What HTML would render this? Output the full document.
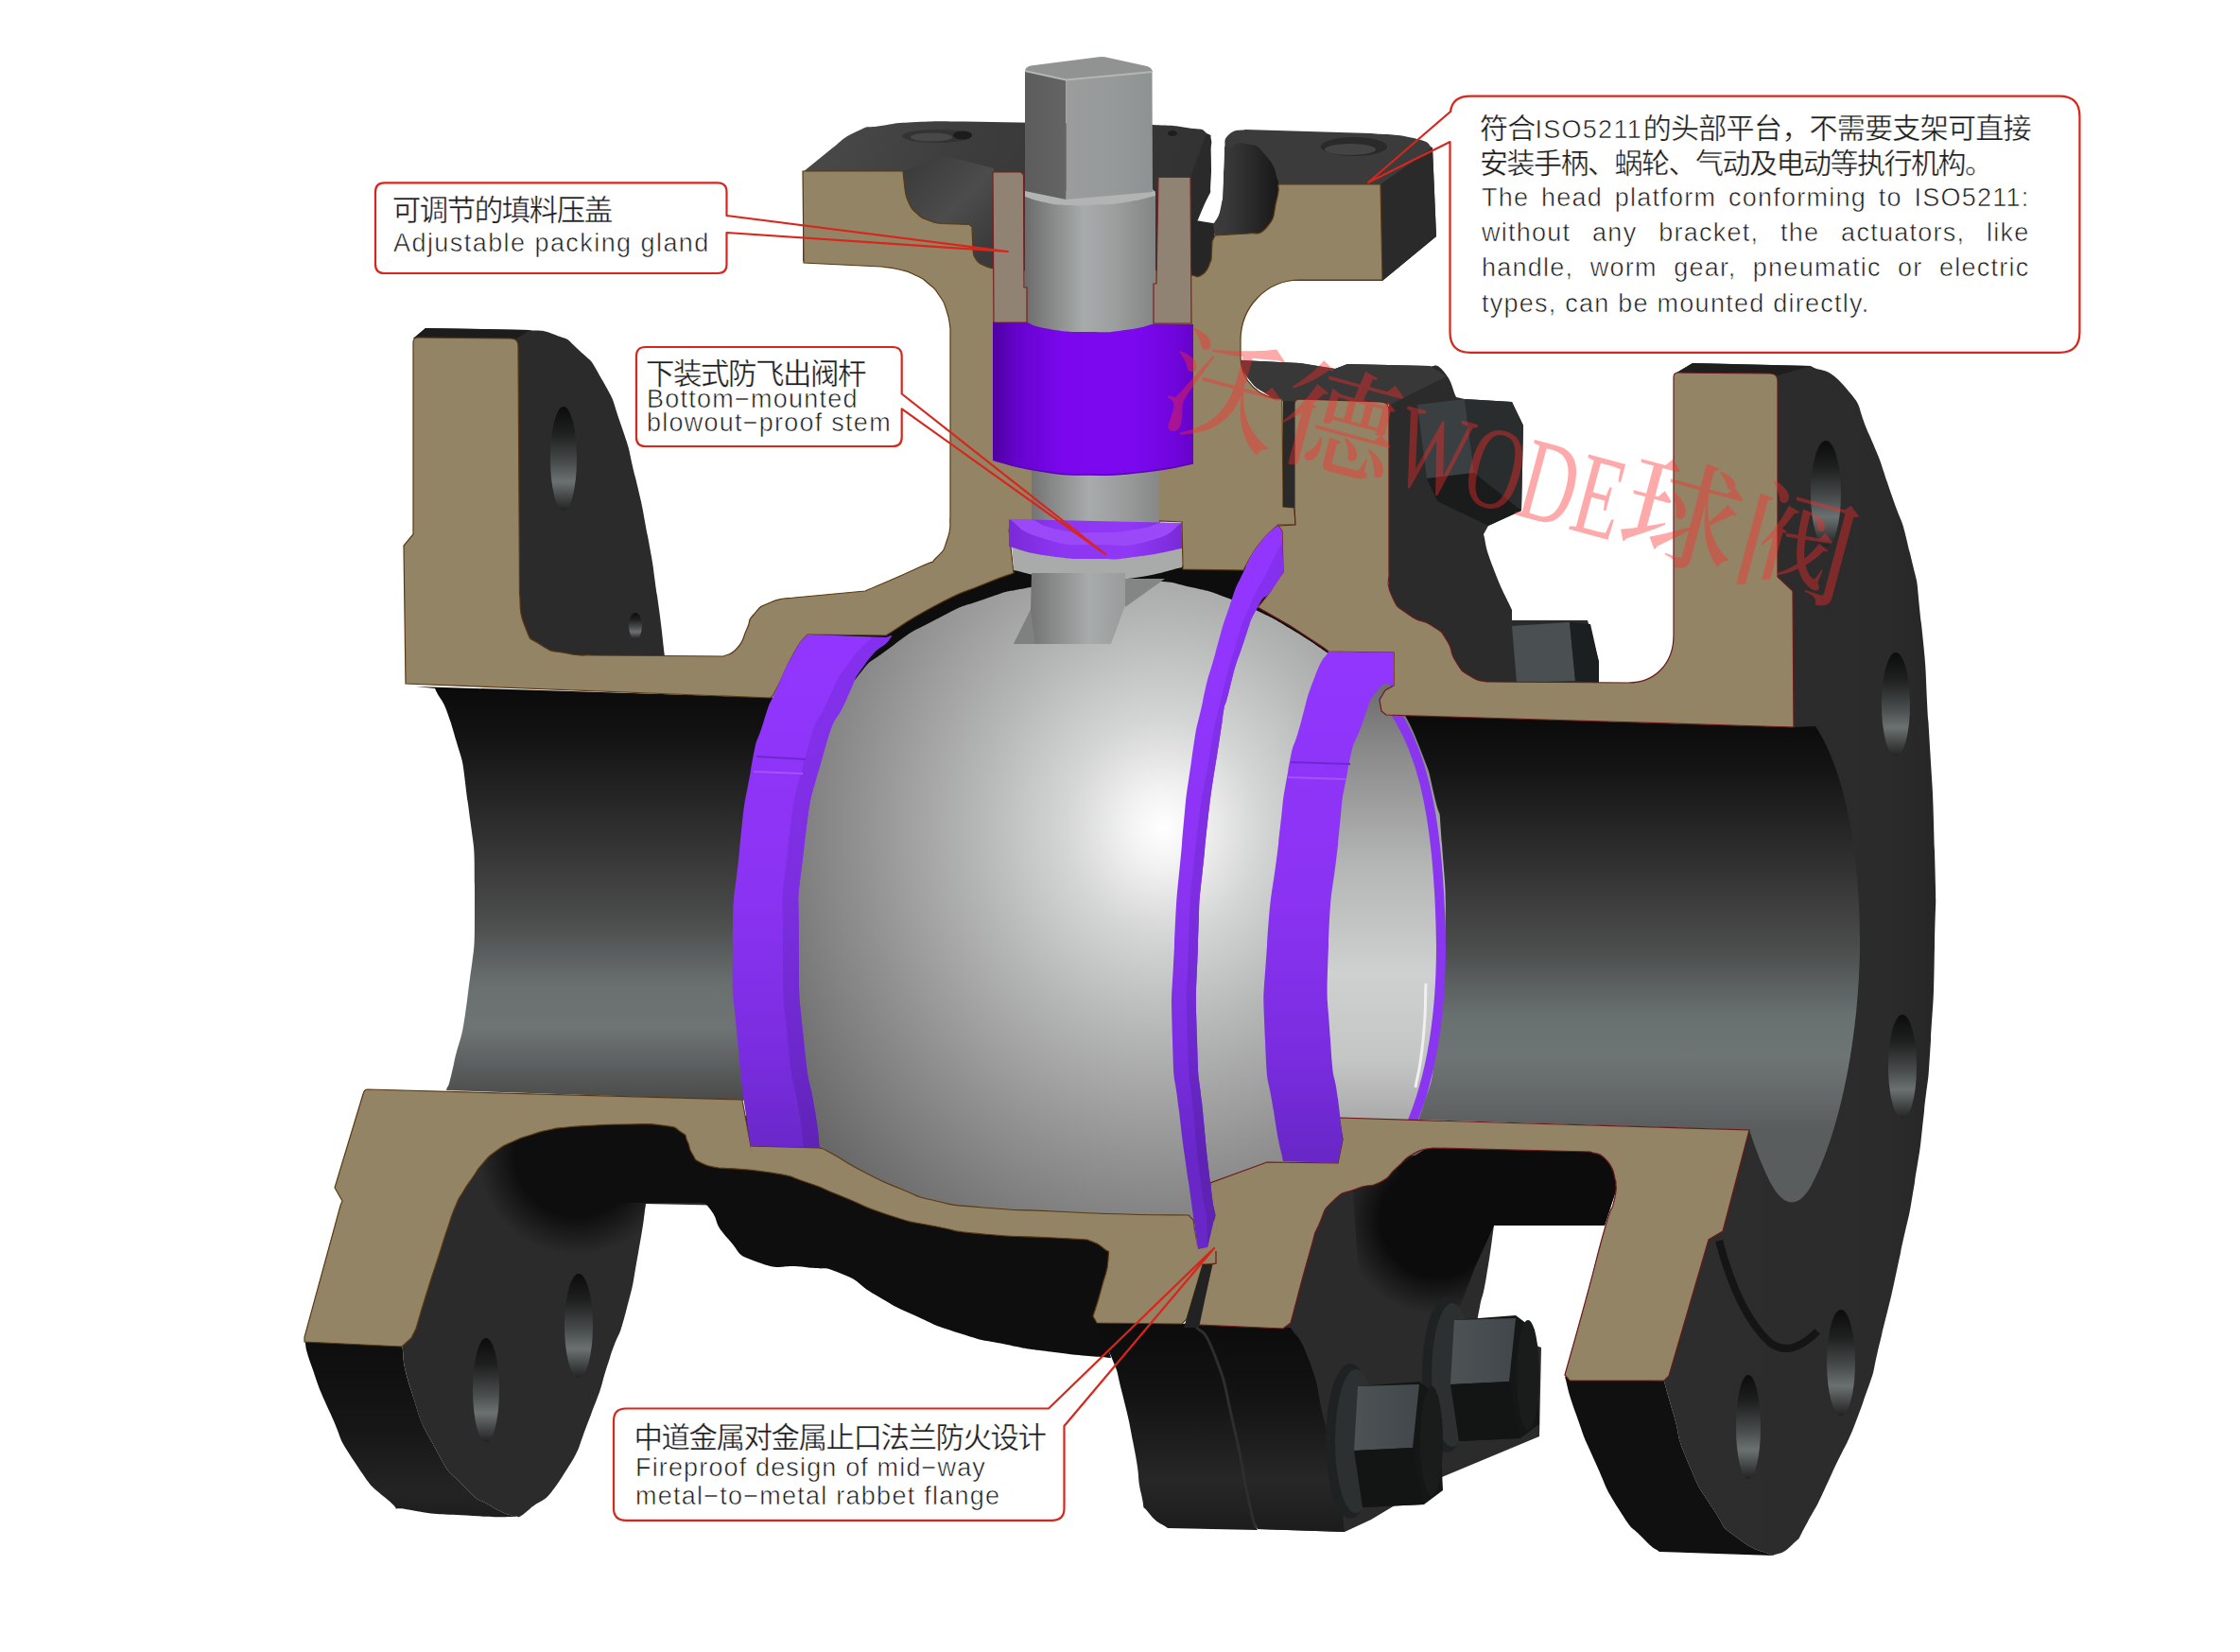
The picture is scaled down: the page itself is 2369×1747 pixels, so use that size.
<!DOCTYPE html>
<html><head><meta charset="utf-8"><title>Ball valve</title>
<style>
html,body{margin:0;padding:0;background:#fff;}
body{width:2369px;height:1747px;position:relative;overflow:hidden;font-family:"Liberation Sans","Noto Sans CJK SC",sans-serif;color:#1a1a1a;}
.t{position:absolute;white-space:nowrap;line-height:1;font-weight:300;color:#1c1c1c;}
.e{font-size:27px;letter-spacing:1.25px;-webkit-text-stroke:0.55px #fff;}
.c{font-weight:400;-webkit-text-stroke:0.35px #fff;}
.j{text-align:justify;text-align-last:justify;white-space:normal;}
</style></head><body>
<svg width="2369" height="1747" viewBox="0 0 2369 1747" style="position:absolute;left:0;top:0"><defs><linearGradient id="boreL" gradientUnits="userSpaceOnUse" x1="0" y1="730" x2="0" y2="1165"><stop offset="0" stop-color="#0b0b0b"/><stop offset="0.12" stop-color="#141414"/><stop offset="0.35" stop-color="#303030"/><stop offset="0.55" stop-color="#4a4b4b"/><stop offset="0.72" stop-color="#6a7070"/><stop offset="0.82" stop-color="#6e7474"/><stop offset="0.92" stop-color="#5a5d5d"/><stop offset="1" stop-color="#4a4a4a"/></linearGradient><linearGradient id="boreR" gradientUnits="userSpaceOnUse" x1="0" y1="760" x2="0" y2="1195"><stop offset="0" stop-color="#0b0b0b"/><stop offset="0.12" stop-color="#141414"/><stop offset="0.35" stop-color="#303030"/><stop offset="0.55" stop-color="#4a4b4b"/><stop offset="0.72" stop-color="#687070"/><stop offset="0.82" stop-color="#6e7474"/><stop offset="0.92" stop-color="#646868"/><stop offset="1" stop-color="#5a5d5d"/></linearGradient><radialGradient id="ball" gradientUnits="userSpaceOnUse" cx="1230" cy="875" r="520" gradientTransform="translate(1230 875) scale(0.9 1) translate(-1230 -875)"><stop offset="0" stop-color="#ffffff"/><stop offset="0.08" stop-color="#f2f2f2"/><stop offset="0.22" stop-color="#d4d5d5"/><stop offset="0.42" stop-color="#b5b6b6"/><stop offset="0.68" stop-color="#929292"/><stop offset="1" stop-color="#686868"/></radialGradient><linearGradient id="seatV" gradientUnits="userSpaceOnUse" x1="0" y1="670" x2="0" y2="1220"><stop offset="0" stop-color="#9236ff"/><stop offset="0.5" stop-color="#8b33f2"/><stop offset="0.8" stop-color="#7a2de0"/><stop offset="1" stop-color="#6927c8"/></linearGradient><linearGradient id="seatV2" gradientUnits="userSpaceOnUse" x1="0" y1="670" x2="0" y2="1220"><stop offset="0" stop-color="#8430ee"/><stop offset="0.5" stop-color="#7d2ee0"/><stop offset="0.8" stop-color="#6c28cc"/><stop offset="1" stop-color="#5e22b4"/></linearGradient><linearGradient id="pack" gradientUnits="userSpaceOnUse" x1="1050" y1="0" x2="1262" y2="0"><stop offset="0" stop-color="#4e00a0"/><stop offset="0.12" stop-color="#6603cc"/><stop offset="0.35" stop-color="#7a07ee"/><stop offset="0.7" stop-color="#7c08f0"/><stop offset="0.9" stop-color="#7005dd"/><stop offset="1" stop-color="#6504c8"/></linearGradient><linearGradient id="stem" gradientUnits="userSpaceOnUse" x1="1084" y1="0" x2="1222" y2="0"><stop offset="0" stop-color="#6c6c6c"/><stop offset="0.15" stop-color="#808181"/><stop offset="0.45" stop-color="#a8abab"/><stop offset="0.7" stop-color="#9c9e9e"/><stop offset="1" stop-color="#838484"/></linearGradient><linearGradient id="stem2" gradientUnits="userSpaceOnUse" x1="1091" y1="0" x2="1226" y2="0"><stop offset="0" stop-color="#747474"/><stop offset="0.15" stop-color="#868787"/><stop offset="0.45" stop-color="#a8abab"/><stop offset="0.7" stop-color="#9c9e9e"/><stop offset="1" stop-color="#868787"/></linearGradient><linearGradient id="sqR" gradientUnits="userSpaceOnUse" x1="1127" y1="0" x2="1219" y2="0"><stop offset="0" stop-color="#9b9d9d"/><stop offset="0.5" stop-color="#979a9a"/><stop offset="1" stop-color="#8f9292"/></linearGradient><linearGradient id="sqL" gradientUnits="userSpaceOnUse" x1="1084" y1="0" x2="1127" y2="0"><stop offset="0" stop-color="#5c5c5c"/><stop offset="1" stop-color="#646464"/></linearGradient><linearGradient id="hole" gradientUnits="objectBoundingBox" x1="0" y1="0" x2="0" y2="1"><stop offset="0" stop-color="#0c0c0c"/><stop offset="0.25" stop-color="#1e1f1f"/><stop offset="0.55" stop-color="#4a4e4e"/><stop offset="0.72" stop-color="#6b7171"/><stop offset="0.9" stop-color="#3c3e3e"/><stop offset="1" stop-color="#222"/></linearGradient><linearGradient id="inner" gradientUnits="userSpaceOnUse" x1="0" y1="730" x2="0" y2="1190"><stop offset="0" stop-color="#6e6e6e"/><stop offset="0.15" stop-color="#8c8c8c"/><stop offset="0.4" stop-color="#b4b5b5"/><stop offset="0.65" stop-color="#cfd0d0"/><stop offset="0.85" stop-color="#c4c5c5"/><stop offset="1" stop-color="#a8a8a8"/></linearGradient><linearGradient id="rimB" gradientUnits="userSpaceOnUse" x1="0" y1="1400" x2="0" y2="1620"><stop offset="0" stop-color="#0c0c0c"/><stop offset="0.5" stop-color="#161616"/><stop offset="0.8" stop-color="#242424"/><stop offset="1" stop-color="#1a1a1a"/></linearGradient><linearGradient id="topL" gradientUnits="userSpaceOnUse" x1="850" y1="130" x2="1280" y2="280"><stop offset="0" stop-color="#4a4a4a"/><stop offset="0.4" stop-color="#3c3c3c"/><stop offset="1" stop-color="#303030"/></linearGradient><linearGradient id="recess" gradientUnits="userSpaceOnUse" x1="1296" y1="0" x2="1352" y2="0"><stop offset="0" stop-color="#3a3a3a"/><stop offset="0.6" stop-color="#262626"/><stop offset="1" stop-color="#181818"/></linearGradient><linearGradient id="washer" gradientUnits="userSpaceOnUse" x1="1067" y1="0" x2="1250" y2="0"><stop offset="0" stop-color="#7a2ad8"/><stop offset="0.3" stop-color="#8d36f2"/><stop offset="0.7" stop-color="#9038f5"/><stop offset="1" stop-color="#7a2ad8"/></linearGradient><linearGradient id="nutF" gradientUnits="objectBoundingBox" x1="0" y1="0" x2="1" y2="0"><stop offset="0" stop-color="#4d5355"/><stop offset="1" stop-color="#41474a"/></linearGradient><linearGradient id="faceR" gradientUnits="userSpaceOnUse" x1="1780" y1="0" x2="2050" y2="0"><stop offset="0" stop-color="#2d2d2d"/><stop offset="0.8" stop-color="#2b2b2b"/><stop offset="1" stop-color="#262626"/></linearGradient><clipPath id="clipLF"><path d="M425.0,1421.0 L440.0,1300.0 L520.0,1190.0 L780.0,1190.0 L780.0,1275.0 L683.0,1273.0 C680.3,1290.3 682.0,1287.0 675.0,1325.0 C668.0,1363.0 672.0,1350.0 662.0,1387.0 C652.0,1424.0 657.3,1399.7 645.0,1436.0 C632.7,1472.3 641.7,1454.3 625.0,1496.0 C608.3,1537.7 616.7,1527.7 595.0,1561.0 C573.3,1594.3 576.7,1581.7 560.0,1596.0 C543.3,1610.3 550.0,1601.3 545.0,1604.0 C536.7,1600.3 538.3,1604.0 520.0,1593.0 C501.7,1582.0 510.0,1591.7 490.0,1571.0 C470.0,1550.3 478.3,1564.3 460.0,1531.0 C441.7,1497.7 446.7,1507.7 435.0,1471.0 C423.3,1434.3 428.3,1437.7 425.0,1421.0 Z"/></clipPath><filter id="blur8" x="-50%" y="-50%" width="200%" height="200%"><feGaussianBlur stdDeviation="10"/></filter><filter id="blur16" x="-50%" y="-50%" width="200%" height="200%"><feGaussianBlur stdDeviation="16"/></filter><radialGradient id="shL" gradientUnits="userSpaceOnUse" cx="610" cy="1222" r="105"><stop offset="0" stop-color="#0e0e0e"/><stop offset="0.62" stop-color="#0e0e0e"/><stop offset="1" stop-color="#0e0e0e" stop-opacity="0"/></radialGradient><linearGradient id="recL" gradientUnits="userSpaceOnUse" x1="960" y1="170" x2="1050" y2="260"><stop offset="0" stop-color="#3a3a3a"/><stop offset="0.55" stop-color="#4c4c4c"/><stop offset="1" stop-color="#3a3a3a"/></linearGradient><linearGradient id="mfl" gradientUnits="userSpaceOnUse" x1="0" y1="1400" x2="0" y2="1620"><stop offset="0" stop-color="#0c0c0c"/><stop offset="0.35" stop-color="#131313"/><stop offset="0.75" stop-color="#272727"/><stop offset="1" stop-color="#1c1c1c"/></linearGradient><radialGradient id="shR" gradientUnits="userSpaceOnUse" cx="1520" cy="1290" r="100"><stop offset="0" stop-color="#0c0c0c"/><stop offset="0.6" stop-color="#0c0c0c"/><stop offset="1" stop-color="#0c0c0c" stop-opacity="0"/></radialGradient><linearGradient id="neckHL" gradientUnits="userSpaceOnUse" x1="1438" y1="1262" x2="1478" y2="1248"><stop offset="0" stop-color="#2b2b2b"/><stop offset="0.5" stop-color="#2f2f2f"/><stop offset="1" stop-color="#2b2b2b"/></linearGradient></defs><path d="M437.0,358.0 L450.0,347.0 L560.0,349.0 C569.0,350.7 569.7,347.0 587.0,354.0 C604.3,361.0 595.3,354.0 612.0,370.0 C628.7,386.0 622.0,375.3 637.0,402.0 C652.0,428.7 645.3,415.7 657.0,450.0 C668.7,484.3 662.7,466.0 672.0,505.0 C681.3,544.0 677.3,525.3 685.0,567.0 C692.7,608.7 689.0,587.7 695.0,630.0 C701.0,672.3 700.3,672.7 703.0,694.0 L545.0,694.0 L545.0,358.0 Z" fill="#2b2b2b"/>
<path d="M437.0,358.0 L450.0,347.0 L560.0,349.0 L545.0,359.0 Z" fill="#1c1c1c"/>
<ellipse cx="596" cy="485" rx="14" ry="55" fill="url(#hole)"/>
<ellipse cx="672" cy="662" rx="7" ry="14" fill="url(#hole)"/>
<path d="M425.0,1421.0 L440.0,1300.0 L520.0,1190.0 L780.0,1190.0 L780.0,1275.0 L683.0,1273.0 C680.3,1290.3 682.0,1287.0 675.0,1325.0 C668.0,1363.0 672.0,1350.0 662.0,1387.0 C652.0,1424.0 657.3,1399.7 645.0,1436.0 C632.7,1472.3 641.7,1454.3 625.0,1496.0 C608.3,1537.7 616.7,1527.7 595.0,1561.0 C573.3,1594.3 576.7,1581.7 560.0,1596.0 C543.3,1610.3 550.0,1601.3 545.0,1604.0 C536.7,1600.3 538.3,1604.0 520.0,1593.0 C501.7,1582.0 510.0,1591.7 490.0,1571.0 C470.0,1550.3 478.3,1564.3 460.0,1531.0 C441.7,1497.7 446.7,1507.7 435.0,1471.0 C423.3,1434.3 428.3,1437.7 425.0,1421.0 Z" fill="#2b2b2b"/>
<path d="M322.0,1416.0 L425.0,1422.0 C428.3,1438.3 423.3,1434.7 435.0,1471.0 C446.7,1507.3 441.7,1497.7 460.0,1531.0 C478.3,1564.3 470.0,1550.3 490.0,1571.0 C510.0,1591.7 501.7,1582.0 520.0,1593.0 C538.3,1604.0 536.7,1600.3 545.0,1604.0 C530.0,1603.7 536.7,1605.3 500.0,1603.0 C463.3,1600.7 465.0,1602.7 435.0,1597.0 C405.0,1591.3 430.0,1603.0 410.0,1586.0 C390.0,1569.0 395.0,1576.0 375.0,1546.0 C355.0,1516.0 365.0,1529.3 350.0,1496.0 C335.0,1462.7 339.3,1472.7 330.0,1446.0 C320.7,1419.3 324.7,1426.0 322.0,1416.0 Z" fill="url(#rimB)"/>
<ellipse cx="612" cy="1402" rx="15" ry="55" fill="url(#hole)"/>
<ellipse cx="514" cy="1470" rx="14" ry="55" fill="url(#hole)"/>
<g clip-path="url(#clipLF)"><circle cx="610" cy="1222" r="105" fill="url(#shL)"/></g>
<path d="M600.0,1180.0 L800.0,1180.0 L1150.0,1300.0 L1180.0,1320.0 L1165.0,1400.0 L1175.0,1436.0 C1155.0,1434.0 1151.7,1434.7 1115.0,1430.0 C1078.3,1425.3 1098.3,1428.7 1065.0,1422.0 C1031.7,1415.3 1048.3,1420.7 1015.0,1410.0 C981.7,1399.3 994.3,1403.3 965.0,1390.0 C935.7,1376.7 952.0,1384.3 927.0,1370.0 C902.0,1355.7 915.0,1357.0 890.0,1347.0 C865.0,1337.0 881.3,1344.0 852.0,1340.0 C822.7,1336.0 829.3,1345.0 802.0,1335.0 C774.7,1325.0 786.7,1328.3 770.0,1310.0 C753.3,1291.7 761.3,1292.7 752.0,1280.0 C742.7,1267.3 745.3,1274.7 742.0,1272.0 L600.0,1272.0 Z" fill="#0e0e0e"/>
<path d="M849.0,182.0 L881.0,156.0 C889.3,150.3 889.0,146.7 906.0,139.0 C923.0,131.3 910.7,136.3 932.0,133.0 C953.3,129.7 940.7,130.5 970.0,129.0 C999.3,127.5 1003.3,128.7 1020.0,128.5 L1220.0,132.0 C1231.7,133.0 1236.0,131.7 1255.0,135.0 C1274.0,138.3 1268.7,133.7 1277.0,142.0 C1285.3,150.3 1279.0,154.0 1280.0,160.0 L1282.0,200.0 L1265.0,232.0 L1260.0,292.0 L1051.0,292.0 L1051.0,276.0 L849.0,276.0 Z" fill="url(#topL)"/>
<path d="M955.0,181.0 L957.0,200.0 C958.3,204.7 956.7,205.3 961.0,214.0 C965.3,222.7 963.0,219.7 970.0,226.0 C977.0,232.3 973.7,229.5 982.0,233.0 C990.3,236.5 990.7,235.3 995.0,236.5 L1025.0,237.3 L1028.0,240.0 L1029.0,265.0 C1030.0,268.0 1028.3,268.8 1032.0,274.0 C1035.7,279.2 1033.7,277.2 1040.0,280.5 C1046.3,283.8 1047.3,282.8 1051.0,284.0 L1051.0,178.0 L1000.0,165.0 Z" fill="url(#recL)"/>
<ellipse cx="991" cy="144" rx="37" ry="7" fill="#333"/>
<ellipse cx="985" cy="145" rx="22" ry="4.5" fill="#484848"/>
<ellipse cx="1018" cy="143" rx="10" ry="4.5" fill="#1c1c1c"/>
<ellipse cx="1240" cy="141" rx="5" ry="3" fill="#1e1e1e"/>
<path d="M1295.0,156.0 C1296.7,151.3 1292.7,148.3 1300.0,142.0 C1307.3,135.7 1311.3,138.7 1317.0,137.0 L1450.0,141.0 C1465.0,142.7 1473.3,141.0 1495.0,146.0 C1516.7,151.0 1508.3,152.7 1515.0,156.0 L1519.0,250.0 L1462.0,297.0 L1352.0,297.0 L1285.0,250.0 L1282.0,238.0 C1284.7,233.7 1286.3,234.3 1290.0,225.0 C1293.7,215.7 1292.0,215.0 1293.0,210.0 Z" fill="#3b3b3b"/>
<path d="M1460.0,195.0 L1515.0,156.0 L1519.0,250.0 L1462.0,297.0 Z" fill="#2a2a2a"/>
<path d="M1296.0,158.0 C1303.3,156.0 1303.3,149.3 1318.0,152.0 C1332.7,154.7 1328.7,152.7 1340.0,166.0 C1351.3,179.3 1348.0,183.3 1352.0,192.0 L1352.0,195.0 C1351.3,200.7 1354.0,197.0 1350.0,212.0 C1346.0,227.0 1350.0,228.3 1340.0,240.0 C1330.0,251.7 1326.7,244.7 1320.0,247.0 L1285.0,249.0 L1293.0,210.0 Z" fill="url(#recess)"/>
<ellipse cx="1432" cy="155" rx="35" ry="10" fill="#2a2a2a"/>
<ellipse cx="1428" cy="158" rx="27" ry="6" fill="#444"/>
<path d="M1276.0,141.0 L1280.5,143.0 L1281.0,199.0 L1266.0,234.5 L1259.0,234.5 L1259.0,188.0 Z" fill="#2a2a2a"/>
<path d="M1258.0,232.0 L1283.0,236.0 L1285.0,252.0 L1282.0,292.0 L1258.0,292.0 Z" fill="#262626"/>
<path d="M1312.0,381.0 L1375.0,384.0 L1412.0,390.0 L1425.0,385.0 L1512.0,387.0 C1517.0,389.0 1517.7,382.0 1527.0,393.0 C1536.3,404.0 1535.7,411.0 1540.0,420.0 L1549.0,422.0 L1599.0,425.0 L1611.0,450.0 L1609.0,540.0 L1574.0,556.0 L1569.0,565.0 C1572.3,576.7 1569.0,573.3 1579.0,600.0 C1589.0,626.7 1592.3,630.0 1599.0,645.0 L1599.0,656.0 L1679.0,656.0 L1691.0,700.0 L1691.0,724.0 L1469.0,724.0 L1469.0,426.0 L1356.0,424.0 C1350.7,421.7 1352.0,425.0 1340.0,417.0 C1328.0,409.0 1329.3,412.0 1320.0,400.0 C1310.7,388.0 1314.7,387.3 1312.0,381.0 Z" fill="#2b2b2b"/>
<path d="M1312.0,381.0 L1375.0,384.0 L1412.0,390.0 L1425.0,385.0 L1512.0,387.0 L1530.0,398.0 L1470.0,428.0 L1356.0,424.0 C1350.7,421.7 1352.0,425.0 1340.0,417.0 C1328.0,409.0 1329.3,412.0 1320.0,400.0 C1310.7,388.0 1314.7,387.3 1312.0,381.0 Z" fill="#383838"/>
<path d="M1499.0,428.0 L1549.0,422.0 L1559.0,500.0 L1509.0,506.0 Z" fill="#3a3f41"/>
<path d="M1549.0,422.0 L1599.0,425.0 L1611.0,450.0 L1609.0,540.0 L1559.0,500.0 Z" fill="#2a2d2e"/>
<path d="M1509.0,506.0 L1559.0,500.0 L1609.0,540.0 L1574.0,556.0 L1520.0,530.0 Z" fill="#1a1c1c"/>
<path d="M1599.0,662.0 L1660.0,658.0 L1666.0,720.0 L1604.0,722.0 Z" fill="#4a5052"/>
<path d="M1660.0,658.0 L1682.0,660.0 L1691.0,700.0 L1691.0,722.0 L1666.0,720.0 Z" fill="#1c1f1f"/>
<path d="M1770.0,396.0 L1790.0,384.0 L1915.0,387.0 C1927.3,394.7 1931.3,385.7 1952.0,410.0 C1972.7,434.3 1961.0,422.7 1977.0,460.0 C1993.0,497.3 1985.7,480.3 2000.0,522.0 C2014.3,563.7 2009.3,539.0 2020.0,585.0 C2030.7,631.0 2025.3,597.3 2032.0,660.0 C2038.7,722.7 2035.3,693.0 2040.0,773.0 C2044.7,853.0 2044.0,824.3 2046.0,900.0 C2048.0,975.7 2047.3,933.3 2046.0,1000.0 C2044.7,1066.7 2045.7,1041.7 2042.0,1100.0 C2038.3,1158.3 2040.7,1125.0 2035.0,1175.0 C2029.3,1225.0 2033.3,1200.0 2025.0,1250.0 C2016.7,1300.0 2021.7,1271.0 2010.0,1325.0 C1998.3,1379.0 2003.3,1359.0 1990.0,1412.0 C1976.7,1465.0 1987.7,1435.0 1970.0,1484.0 C1952.3,1533.0 1956.3,1517.3 1937.0,1559.0 C1917.7,1600.7 1926.0,1584.0 1912.0,1609.0 C1898.0,1634.0 1907.3,1622.0 1895.0,1634.0 C1882.7,1646.0 1881.7,1641.3 1875.0,1645.0 C1862.3,1638.7 1858.0,1642.3 1837.0,1626.0 C1816.0,1609.7 1829.3,1622.7 1812.0,1596.0 C1794.7,1569.3 1799.0,1579.3 1785.0,1546.0 C1771.0,1512.7 1778.3,1524.3 1770.0,1496.0 C1761.7,1467.7 1763.3,1472.7 1760.0,1461.0 L1740.0,1461.0 L1790.0,1300.0 L1830.0,1195.0 L1890.0,769.0 L1870.0,769.0 L1870.0,400.0 Z" fill="url(#faceR)"/>
<path d="M1770.0,396.0 L1790.0,384.0 L1915.0,387.0 L1880.0,397.0 Z" fill="#1e1e1e"/>
<ellipse cx="1931" cy="522" rx="16" ry="56" fill="url(#hole)"/>
<ellipse cx="2005" cy="745" rx="15" ry="55" fill="url(#hole)"/>
<ellipse cx="2012" cy="1128" rx="15" ry="55" fill="url(#hole)"/>
<ellipse cx="1947" cy="1441" rx="15" ry="56" fill="url(#hole)"/>
<ellipse cx="1849" cy="1509" rx="13" ry="55" fill="url(#hole)"/>
<path d="M1818,1312 C1832,1365 1850,1400 1872,1420 C1888,1432 1905,1425 1922,1408" fill="none" stroke="#151515" stroke-width="8"/>
<path d="M1655.0,1456.0 L1760.0,1461.0 C1763.3,1472.7 1761.7,1467.7 1770.0,1496.0 C1778.3,1524.3 1771.0,1512.7 1785.0,1546.0 C1799.0,1579.3 1794.7,1569.3 1812.0,1596.0 C1829.3,1622.7 1816.0,1609.7 1837.0,1626.0 C1858.0,1642.3 1862.3,1638.7 1875.0,1645.0 L1755.0,1641.0 C1749.0,1636.0 1751.3,1641.0 1737.0,1626.0 C1722.7,1611.0 1728.7,1622.7 1712.0,1596.0 C1695.3,1569.3 1702.0,1579.3 1687.0,1546.0 C1672.0,1512.7 1677.7,1526.0 1667.0,1496.0 C1656.3,1466.0 1659.0,1469.3 1655.0,1456.0 Z" fill="#101010"/>
<path d="M440.0,726.0 L830.0,738.0 L800.0,1164.0 L472.0,1153.0 C474.7,1143.7 472.3,1159.3 480.0,1125.0 C487.7,1090.7 487.7,1108.3 495.0,1050.0 C502.3,991.7 502.0,1016.7 502.0,950.0 C502.0,883.3 502.3,908.3 495.0,850.0 C487.7,791.7 491.7,815.7 480.0,775.0 C468.3,734.3 466.7,743.7 460.0,728.0 Z" fill="url(#boreL)"/>
<path d="M1440.0,755.0 L1897.0,769.0 L1920.0,768.0 C1955.0,820.0 1968.0,920.0 1967.0,1000.0 C1966.0,1100.0 1945.0,1200.0 1915.0,1255.0 C1900.0,1280.0 1885.0,1275.0 1872.0,1250.0 C1862.0,1230.0 1855.0,1210.0 1850.0,1195.0 L1410.0,1181.0 Z" fill="url(#boreR)"/>
<path d="M1340.0,1404.0 L1380.0,1290.0 L1440.0,1225.0 L1680.0,1212.0 L1712.0,1250.0 L1697.0,1296.0 L1580.0,1296.0 C1577.3,1314.0 1577.0,1321.3 1572.0,1350.0 C1567.0,1378.7 1568.3,1365.3 1565.0,1382.0 C1561.7,1398.7 1563.0,1394.0 1562.0,1400.0 L1630.0,1425.0 L1628.0,1519.0 L1525.0,1562.0 L1450.0,1607.0 L1422.0,1620.0 L1330.0,1617.0 L1300.0,1500.0 Z" fill="#2b2b2b"/>
<path d="M1500.0,1205.0 L1682.0,1212.0 C1688.7,1216.7 1692.0,1213.3 1702.0,1226.0 C1712.0,1238.7 1708.7,1242.0 1712.0,1250.0 L1697.0,1296.0 L1580.0,1296.0 L1560.0,1340.0 L1540.0,1392.0 L1440.0,1392.0 L1430.0,1250.0 Z" fill="url(#shR)"/>
<path d="M1515.0,1210.0 L1682.0,1214.0 C1688.7,1218.0 1692.0,1214.0 1702.0,1226.0 C1712.0,1238.0 1708.7,1242.0 1712.0,1250.0 L1697.0,1296.0 L1580.0,1296.0 L1530.0,1300.0 L1490.0,1260.0 L1477.0,1235.0 Z" fill="#0c0c0c"/>
<path d="M1157.0,1398.0 L1264.0,1400.0 C1268.3,1405.3 1267.0,1396.3 1277.0,1416.0 C1287.0,1435.7 1282.3,1419.7 1294.0,1459.0 C1305.7,1498.3 1301.3,1483.3 1312.0,1534.0 C1322.7,1584.7 1321.3,1585.3 1326.0,1611.0 L1330.0,1618.0 L1235.0,1616.0 C1228.3,1610.7 1224.3,1612.0 1215.0,1600.0 C1205.7,1588.0 1212.0,1602.0 1207.0,1580.0 C1202.0,1558.0 1206.7,1569.3 1200.0,1534.0 C1193.3,1498.7 1195.3,1507.3 1187.0,1474.0 C1178.7,1440.7 1185.0,1459.3 1175.0,1434.0 C1165.0,1408.7 1163.0,1410.0 1157.0,1398.0 Z" fill="url(#mfl)"/>
<path d="M1262.0,1400.0 L1365.0,1404.0 C1371.7,1416.0 1373.3,1408.0 1385.0,1440.0 C1396.7,1472.0 1390.0,1456.7 1400.0,1500.0 C1410.0,1543.3 1407.7,1530.0 1415.0,1570.0 C1422.3,1610.0 1419.7,1603.3 1422.0,1620.0 L1330.0,1617.0 C1326.7,1606.0 1328.3,1620.0 1320.0,1584.0 C1311.7,1548.0 1316.7,1559.0 1305.0,1509.0 C1293.3,1459.0 1299.3,1470.3 1285.0,1434.0 C1270.7,1397.7 1269.7,1411.3 1262.0,1400.0 Z" fill="url(#mfl)"/>
<path d="M1264.0,1402.0 C1271.0,1412.7 1271.3,1398.3 1285.0,1434.0 C1298.7,1469.7 1293.3,1459.0 1305.0,1509.0 C1316.7,1559.0 1312.3,1548.3 1320.0,1584.0 C1327.7,1619.7 1325.3,1605.3 1328.0,1616.0" fill="none" stroke="#2e2e2e" stroke-width="3"/>
<ellipse cx="1530" cy="1454" rx="26" ry="82" fill="#1f2222"/>
<ellipse cx="1536" cy="1454" rx="22" ry="76" fill="#2c3030"/>
<path d="M1538.0,1396.0 L1603.0,1391.0 L1623.0,1406.0 L1628.0,1506.0 L1608.0,1521.0 L1543.0,1524.0 Z" fill="#151717"/>
<path d="M1538.0,1396.0 L1603.0,1394.0 L1596.0,1461.0 L1534.0,1464.0 Z" fill="url(#nutF)"/>
<path d="M1534.0,1464.0 L1596.0,1461.0 L1608.0,1521.0 L1543.0,1524.0 Z" fill="#131515"/>
<ellipse cx="1616" cy="1454" rx="12" ry="58" fill="#1a1c1c"/>
<ellipse cx="1428" cy="1524" rx="26" ry="82" fill="#1f2222"/>
<ellipse cx="1434" cy="1524" rx="22" ry="76" fill="#2c3030"/>
<path d="M1436.0,1466.0 L1501.0,1461.0 L1521.0,1476.0 L1526.0,1576.0 L1506.0,1591.0 L1441.0,1594.0 Z" fill="#151717"/>
<path d="M1436.0,1466.0 L1501.0,1464.0 L1494.0,1531.0 L1432.0,1534.0 Z" fill="url(#nutF)"/>
<path d="M1432.0,1534.0 L1494.0,1531.0 L1506.0,1591.0 L1441.0,1594.0 Z" fill="#131515"/>
<ellipse cx="1514" cy="1524" rx="12" ry="58" fill="#1a1c1c"/>
<path d="M854.0,671.0 L1072.0,598.0 L1330.0,598.0 L1420.0,688.0 L1420.0,760.0 L850.0,760.0 Z" fill="#0d0d0d"/>
<path d="M880.0,760.0 C888.3,746.0 885.0,742.7 905.0,718.0 C925.0,693.3 911.7,707.0 940.0,686.0 C968.3,665.0 956.7,672.3 990.0,655.0 C1023.3,637.7 1006.7,645.3 1040.0,634.0 C1073.3,622.7 1053.3,628.0 1090.0,621.0 C1126.7,614.0 1108.3,615.3 1150.0,613.0 C1191.7,610.7 1178.3,611.3 1215.0,614.0 C1251.7,616.7 1231.7,614.7 1260.0,621.0 C1288.3,627.3 1276.7,624.7 1300.0,633.0 C1323.3,641.3 1308.3,635.3 1330.0,646.0 C1351.7,656.7 1340.0,650.0 1365.0,665.0 C1390.0,680.0 1391.7,682.3 1405.0,691.0 L1420.0,700.0 L1420.0,1240.0 L1285.0,1260.0 L1285.0,1292.0 C1253.3,1292.0 1246.7,1293.0 1190.0,1292.0 C1133.3,1291.0 1165.0,1291.3 1115.0,1289.0 C1065.0,1286.7 1081.7,1288.7 1040.0,1285.0 C998.3,1281.3 1019.3,1284.7 990.0,1278.0 C960.7,1271.3 977.0,1275.0 952.0,1265.0 C927.0,1255.0 939.0,1260.3 915.0,1248.0 C891.0,1235.7 896.0,1237.3 880.0,1228.0 C864.0,1218.7 871.3,1222.7 867.0,1220.0 L830.0,1220.0 L830.0,760.0 Z" fill="url(#ball)"/>
<path d="M1400.0,700.0 L1480.0,700.0 L1480.0,745.0 C1487.3,760.7 1489.7,759.7 1502.0,792.0 C1514.3,824.3 1509.3,808.3 1517.0,842.0 C1524.7,875.7 1521.3,840.3 1525.0,893.0 C1528.7,945.7 1529.7,931.0 1528.0,1000.0 C1526.3,1069.0 1527.7,1043.3 1520.0,1100.0 C1512.3,1156.7 1515.7,1136.7 1505.0,1170.0 C1494.3,1203.3 1493.7,1190.0 1488.0,1200.0 L1400.0,1200.0 Z" fill="url(#inner)"/>
<path d="M1462,735 C1500,780 1522,850 1524,1000 C1524,1090 1510,1160 1480,1215" fill="none" stroke="#8a35f0" stroke-width="10"/>
<path d="M1508.0,1040.0 C1507.0,1060.0 1508.7,1063.3 1505.0,1100.0 C1501.3,1136.7 1499.7,1133.3 1497.0,1150.0" fill="none" stroke="#f0f0f0" stroke-width="3"/>
<path d="M437.0,362.0 Q437.0,357.0 442.0,357.0 L540.0,358.0 Q548.0,358.0 548.0,366.0 L549.5,628.0 C551.3,639.3 547.5,644.0 555.0,662.0 C562.5,680.0 557.0,672.3 572.0,682.0 C587.0,691.7 582.3,687.3 600.0,691.0 C617.7,694.7 616.7,692.3 625.0,693.0 L765.0,694.0 C770.0,691.0 771.7,694.7 780.0,685.0 C788.3,675.3 784.3,676.7 790.0,665.0 C795.7,653.3 788.7,659.3 797.0,650.0 C805.3,640.7 800.7,643.0 815.0,637.0 C829.3,631.0 831.7,633.7 840.0,632.0 L915.0,625.0 C934.0,616.7 947.0,611.7 972.0,600.0 C997.0,588.3 980.0,600.0 990.0,590.0 C1000.0,580.0 997.0,584.3 1002.0,570.0 C1007.0,555.7 1004.0,554.7 1005.0,547.0 L1005.0,347.0 C1003.7,340.7 1005.0,339.7 1001.0,328.0 C997.0,316.3 999.3,321.3 993.0,312.0 C986.7,302.7 990.3,307.0 982.0,300.0 C973.7,293.0 978.3,296.0 968.0,291.0 C957.7,286.0 963.0,288.0 951.0,285.0 C939.0,282.0 938.3,283.0 932.0,282.0 L850.0,278.0 L849.0,181.0 L955.0,181.0 L957.0,200.0 C958.3,204.7 956.7,205.3 961.0,214.0 C965.3,222.7 963.0,219.7 970.0,226.0 C977.0,232.3 973.7,229.5 982.0,233.0 C990.3,236.5 990.7,235.3 995.0,236.5 L1025.0,237.3 L1028.0,240.0 L1029.0,265.0 C1030.0,268.0 1028.3,268.8 1032.0,274.0 C1035.7,279.2 1033.7,277.2 1040.0,280.5 C1046.3,283.8 1047.3,282.8 1051.0,284.0 L1051.0,286.0 L1260.0,286.0 L1260.0,291.0 C1264.0,290.7 1265.0,295.3 1272.0,290.0 C1279.0,284.7 1278.0,280.0 1281.0,275.0 L1282.0,255.0 L1285.0,249.0 L1320.0,247.0 C1326.7,244.7 1330.0,251.7 1340.0,240.0 C1350.0,228.3 1346.0,227.0 1350.0,212.0 C1354.0,197.0 1351.3,200.7 1352.0,195.0 L1460.0,195.0 L1462.0,296.0 L1375.0,296.0 C1340.0,296.0 1312.0,324.0 1312.0,360.0 L1312.0,378.0 C1312.0,402.0 1332.0,422.0 1356.0,422.0 L1357.0,536.0 L1369.0,537.0 L1370.0,555.0 L1352.0,555.0 C1345.3,561.7 1344.3,559.0 1332.0,575.0 C1319.7,591.0 1320.7,593.7 1315.0,603.0 L1251.0,602.0 L1250.0,552.0 L1226.0,551.0 L1226.0,600.0 L1091.0,600.0 L1091.0,560.0 L1067.0,560.0 L1072.0,606.0 C1061.3,610.0 1067.3,606.7 1040.0,618.0 C1012.7,629.3 1024.3,622.0 990.0,640.0 C955.7,658.0 954.7,661.3 937.0,672.0 L854.0,671.0 C849.3,677.3 850.7,671.3 840.0,690.0 C829.3,708.7 830.3,711.0 822.0,727.0 C813.7,743.0 817.3,734.3 815.0,738.0 L429.0,723.0 L427.0,577.0 L437.0,565.0 Z" fill="#948466" stroke="#5a3a12" stroke-width="1.2"/>
<path d="M1369.0,428.0 Q1369.0,422.0 1375.0,422.0 L1460.0,425.0 Q1469.0,425.0 1469.0,434.0 L1469.0,605.0 C1470.0,613.3 1465.0,615.0 1472.0,630.0 C1479.0,645.0 1475.7,639.3 1490.0,650.0 C1504.3,660.7 1501.7,653.0 1515.0,662.0 C1528.3,671.0 1521.7,664.3 1530.0,677.0 C1538.3,689.7 1531.7,687.3 1540.0,700.0 C1548.3,712.7 1544.3,708.0 1555.0,715.0 C1565.7,722.0 1566.3,719.0 1572.0,721.0 L1722.0,722.0 C1750.0,722.0 1770.0,702.0 1770.0,672.0 L1770.0,399.0 Q1770.0,394.0 1775.0,394.0 L1872.0,395.0 Q1880.0,395.0 1880.0,403.0 L1880.0,610.0 L1896.0,625.0 L1897.0,769.0 L1466.0,756.0 L1461.0,752.0 L1459.0,740.0 L1465.0,730.0 L1474.0,725.0 L1474.0,690.0 L1405.0,689.0 L1400.0,685.0 L1365.0,662.0 L1330.0,642.0 C1333.3,638.0 1333.3,639.0 1340.0,630.0 C1346.7,621.0 1344.3,623.3 1350.0,615.0 C1355.7,606.7 1354.7,608.3 1357.0,605.0 L1356.0,562.0 L1352.0,556.0 L1370.0,555.0 L1369.0,537.0 Z" fill="#948466" stroke="#6a1a1a" stroke-width="1.2"/>
<path d="M389.0,1152.0 L785.0,1163.0 L794.0,1212.0 L867.0,1214.0 C871.3,1216.0 864.0,1211.3 880.0,1220.0 C896.0,1228.7 891.0,1227.7 915.0,1240.0 C939.0,1252.3 927.0,1247.0 952.0,1257.0 C977.0,1267.0 960.7,1263.3 990.0,1270.0 C1019.3,1276.7 998.3,1273.3 1040.0,1277.0 C1081.7,1280.7 1065.0,1278.7 1115.0,1281.0 C1165.0,1283.3 1142.7,1282.7 1190.0,1284.0 C1237.3,1285.3 1234.7,1284.7 1257.0,1285.0 L1262.0,1290.0 L1267.0,1321.0 L1287.0,1322.0 L1287.0,1336.0 L1272.0,1337.0 L1255.0,1395.0 L1250.0,1400.0 L1160.0,1399.0 L1156.0,1392.0 C1159.0,1382.0 1159.7,1382.0 1165.0,1362.0 C1170.3,1342.0 1171.3,1346.0 1172.0,1332.0 C1172.7,1318.0 1174.3,1327.0 1167.0,1320.0 C1159.7,1313.0 1155.7,1314.0 1150.0,1311.0 C1138.3,1310.3 1151.7,1311.0 1115.0,1309.0 C1078.3,1307.0 1081.7,1309.0 1040.0,1305.0 C998.3,1301.0 1023.3,1303.7 990.0,1297.0 C956.7,1290.3 973.3,1295.7 940.0,1285.0 C906.7,1274.3 919.3,1276.7 890.0,1265.0 C860.7,1253.3 877.0,1258.3 852.0,1250.0 C827.0,1241.7 845.7,1245.0 815.0,1240.0 C784.3,1235.0 778.3,1236.7 760.0,1235.0 C754.0,1233.3 751.3,1235.0 742.0,1230.0 C732.7,1225.0 737.0,1227.7 732.0,1220.0 C727.0,1212.3 731.0,1214.7 727.0,1207.0 C723.0,1199.3 729.0,1202.7 720.0,1197.0 C711.0,1191.3 719.3,1192.7 700.0,1190.0 C680.7,1187.3 685.3,1189.0 662.0,1189.0 C638.7,1189.0 650.7,1189.0 630.0,1190.0 C609.3,1191.0 616.7,1190.3 600.0,1192.0 C583.3,1193.7 592.7,1192.3 580.0,1195.0 C567.3,1197.7 574.3,1196.0 562.0,1200.0 C549.7,1204.0 555.3,1201.3 543.0,1207.0 C530.7,1212.7 535.7,1209.3 525.0,1217.0 C514.3,1224.7 519.3,1220.7 511.0,1230.0 C502.7,1239.3 507.0,1235.0 500.0,1245.0 C493.0,1255.0 496.0,1250.0 490.0,1260.0 C484.0,1270.0 487.7,1261.7 482.0,1275.0 C476.3,1288.3 478.7,1283.3 473.0,1300.0 C467.3,1316.7 472.0,1303.3 465.0,1325.0 C458.0,1346.7 460.3,1338.3 452.0,1365.0 C443.7,1391.7 444.0,1391.7 440.0,1405.0 L435.0,1415.0 L425.0,1424.0 L322.0,1419.0 L322.0,1414.0 L360.0,1275.0 L362.0,1270.0 L354.0,1256.0 L384.0,1157.0 Q385.0,1152.0 389.0,1152.0 Z" fill="#948466" stroke="#5a3a12" stroke-width="1.2"/>
<path d="M1416.0,1182.0 L1850.0,1195.0 L1822.0,1302.0 L1807.0,1311.0 L1765.0,1455.0 L1760.0,1460.0 L1660.0,1460.0 L1655.0,1454.0 C1662.3,1427.7 1663.0,1426.3 1677.0,1375.0 C1691.0,1323.7 1687.0,1335.0 1697.0,1300.0 C1707.0,1265.0 1703.0,1286.7 1707.0,1270.0 C1711.0,1253.3 1708.3,1256.7 1709.0,1250.0 C1706.0,1242.7 1709.0,1238.7 1700.0,1228.0 C1691.0,1217.3 1688.0,1221.3 1682.0,1218.0 L1515.0,1214.0 C1508.3,1216.0 1507.7,1213.0 1495.0,1220.0 C1482.3,1227.0 1488.7,1225.0 1477.0,1235.0 C1465.3,1245.0 1474.0,1242.7 1460.0,1250.0 C1446.0,1257.3 1451.7,1250.3 1435.0,1257.0 C1418.3,1263.7 1423.3,1257.3 1410.0,1270.0 C1396.7,1282.7 1403.3,1276.7 1395.0,1295.0 C1386.7,1313.3 1395.0,1290.3 1385.0,1325.0 C1375.0,1359.7 1371.7,1374.3 1365.0,1399.0 L1357.0,1405.0 L1267.0,1401.0 L1282.0,1337.0 L1286.0,1336.0 L1286.0,1322.0 L1277.0,1317.0 L1285.0,1285.0 L1279.0,1260.0 L1280.0,1251.0 L1340.0,1229.0 L1415.0,1230.0 L1420.0,1205.0 Z" fill="#948466" stroke="#6a1a1a" stroke-width="1.2"/>
<path d="M1264.0,1295.0 L1287.0,1290.0 L1287.0,1323.0 L1266.0,1323.0 Z" fill="#948466"/>
<path d="M1357.0,424.0 L1369.0,424.0 L1369.0,537.0 L1357.0,536.0 Z" fill="#2a2a2a"/>
<path d="M1272.0,1337.0 L1282.0,1337.0 L1268.0,1404.0 L1252.0,1404.0 Z" fill="#222"/>
<path d="M854.0,671.0 C849.3,677.3 850.7,671.3 840.0,690.0 C829.3,708.7 833.0,702.0 822.0,727.0 C811.0,752.0 816.3,735.7 807.0,765.0 C797.7,794.3 802.3,770.0 794.0,815.0 C785.7,860.0 788.3,838.3 782.0,900.0 C775.7,961.7 775.7,933.3 775.0,1000.0 C774.3,1066.7 774.3,1033.3 780.0,1100.0 C785.7,1166.7 787.3,1162.7 792.0,1200.0 C796.7,1237.3 793.3,1208.0 794.0,1212.0 L867.0,1214.0 C865.3,1201.0 867.7,1213.0 862.0,1175.0 C856.3,1137.0 855.7,1158.3 850.0,1100.0 C844.3,1041.7 845.0,1066.7 845.0,1000.0 C845.0,933.3 841.7,966.7 850.0,900.0 C858.3,833.3 855.0,853.3 870.0,800.0 C885.0,746.7 880.0,772.7 895.0,740.0 C910.0,707.3 900.0,723.0 915.0,702.0 C930.0,681.0 932.7,686.3 940.0,677.0 C947.3,667.7 938.0,675.0 937.0,674.0 Z" fill="url(#seatV)"/>
<path d="M867.0,1214.0 C865.3,1201.0 867.7,1213.0 862.0,1175.0 C856.3,1137.0 855.7,1158.3 850.0,1100.0 C844.3,1041.7 845.0,1066.7 845.0,1000.0 C845.0,933.3 841.7,966.7 850.0,900.0 C858.3,833.3 855.0,853.3 870.0,800.0 C885.0,746.7 880.0,772.7 895.0,740.0 C910.0,707.3 900.0,723.0 915.0,702.0 C930.0,681.0 932.7,686.3 940.0,677.0 C947.3,667.7 938.0,675.0 937.0,674.0 L922.0,674.0 C913.7,683.3 912.3,680.0 897.0,702.0 C881.7,724.0 891.0,707.3 876.0,740.0 C861.0,772.7 866.3,746.7 852.0,800.0 C837.7,853.3 841.0,833.3 833.0,900.0 C825.0,966.7 828.0,933.3 828.0,1000.0 C828.0,1066.7 827.3,1041.7 833.0,1100.0 C838.7,1158.3 839.3,1137.0 845.0,1175.0 C850.7,1213.0 848.3,1201.0 850.0,1214.0 Z" fill="url(#seatV2)"/>
<path d="M800.0,800.0 L852.0,803.0" fill="none" stroke="#6f28cf" stroke-width="2"/>
<path d="M797.0,816.0 L849.0,818.0" fill="none" stroke="#a552ff" stroke-width="2"/>
<path d="M1350.0,557.0 C1344.0,563.0 1343.7,559.0 1332.0,575.0 C1320.3,591.0 1325.7,582.7 1315.0,605.0 C1304.3,627.3 1310.0,613.0 1300.0,642.0 C1290.0,671.0 1294.3,658.7 1285.0,692.0 C1275.7,725.3 1280.3,704.3 1272.0,742.0 C1263.7,779.7 1267.3,754.7 1260.0,805.0 C1252.7,855.3 1256.0,828.0 1250.0,893.0 C1244.0,958.0 1245.3,931.0 1242.0,1000.0 C1238.7,1069.0 1238.3,1041.7 1240.0,1100.0 C1241.7,1158.3 1241.3,1125.0 1247.0,1175.0 C1252.7,1225.0 1250.3,1201.3 1257.0,1250.0 C1263.7,1298.7 1263.7,1297.3 1267.0,1321.0 L1277.0,1319.0 L1285.0,1285.0 C1283.3,1273.3 1284.3,1286.7 1280.0,1250.0 C1275.7,1213.3 1276.7,1225.0 1272.0,1175.0 C1267.3,1125.0 1267.7,1158.3 1266.0,1100.0 C1264.3,1041.7 1264.3,1066.7 1267.0,1000.0 C1269.7,933.3 1266.3,973.3 1274.0,900.0 C1281.7,826.7 1281.3,836.7 1290.0,780.0 C1298.7,723.3 1291.7,763.3 1300.0,730.0 C1308.3,696.7 1305.0,709.3 1315.0,680.0 C1325.0,650.7 1320.3,660.3 1330.0,642.0 C1339.7,623.7 1335.0,637.3 1344.0,625.0 C1353.0,612.7 1352.7,611.7 1357.0,605.0 L1356.0,562.0 L1352.0,556.0 Z" fill="url(#seatV)"/>
<path d="M1285.0,1285.0 C1283.3,1273.3 1284.3,1286.7 1280.0,1250.0 C1275.7,1213.3 1276.7,1225.0 1272.0,1175.0 C1267.3,1125.0 1267.7,1158.3 1266.0,1100.0 C1264.3,1041.7 1264.3,1066.7 1267.0,1000.0 C1269.7,933.3 1266.3,973.3 1274.0,900.0 C1281.7,826.7 1281.3,836.7 1290.0,780.0 C1298.7,723.3 1291.7,763.3 1300.0,730.0 C1308.3,696.7 1305.0,709.3 1315.0,680.0 C1325.0,650.7 1320.3,660.3 1330.0,642.0 C1339.7,623.7 1335.0,637.3 1344.0,625.0 C1353.0,612.7 1352.7,611.7 1357.0,605.0 L1356.0,575.0 L1352.0,580.0 C1348.0,588.3 1350.0,585.0 1340.0,605.0 C1330.0,625.0 1333.3,613.3 1322.0,640.0 C1310.7,666.7 1316.7,650.0 1306.0,685.0 C1295.3,720.0 1299.0,706.7 1290.0,745.0 C1281.0,783.3 1287.7,748.3 1279.0,800.0 C1270.3,851.7 1271.3,833.3 1264.0,900.0 C1256.7,966.7 1259.7,933.3 1257.0,1000.0 C1254.3,1066.7 1254.3,1041.7 1256.0,1100.0 C1257.7,1158.3 1257.3,1125.0 1262.0,1175.0 C1266.7,1225.0 1265.3,1213.3 1270.0,1250.0 C1274.7,1286.7 1274.0,1273.3 1276.0,1285.0 L1277.0,1319.0 Z" fill="url(#seatV2)"/>
<path d="M1405.0,689.0 C1400.0,698.3 1400.0,691.0 1390.0,717.0 C1380.0,743.0 1384.3,733.7 1375.0,767.0 C1365.7,800.3 1369.7,775.0 1362.0,817.0 C1354.3,859.0 1359.3,832.0 1352.0,893.0 C1344.7,954.0 1344.7,931.0 1340.0,1000.0 C1335.3,1069.0 1335.7,1041.7 1338.0,1100.0 C1340.3,1158.3 1340.7,1132.3 1347.0,1175.0 C1353.3,1217.7 1353.7,1210.3 1357.0,1228.0 L1415.0,1230.0 L1420.0,1205.0 C1418.3,1190.7 1419.3,1197.0 1415.0,1162.0 C1410.7,1127.0 1410.3,1154.0 1407.0,1100.0 C1403.7,1046.0 1402.3,1069.0 1405.0,1000.0 C1407.7,931.0 1408.3,954.0 1415.0,893.0 C1421.7,832.0 1416.7,859.0 1425.0,817.0 C1433.3,775.0 1429.3,796.0 1440.0,767.0 C1450.7,738.0 1445.7,744.0 1457.0,730.0 C1468.3,716.0 1468.3,726.7 1474.0,725.0 L1474.0,690.0 Z" fill="url(#seatV)"/>
<path d="M1365.0,806.0 L1428.0,808.0" fill="none" stroke="#6f28cf" stroke-width="2"/>
<path d="M1362.0,822.0 L1424.0,824.0" fill="none" stroke="#a552ff" stroke-width="2"/>
<path d="M1091.0,480.0 L1226.0,480.0 L1226.0,560.0 L1091.0,560.0 Z" fill="url(#stem2)"/>
<path d="M1050.0,340.0 L1262.0,343.0 L1262.0,490.0 C1244.7,493.0 1246.7,495.0 1210.0,499.0 C1173.3,503.0 1188.7,502.3 1152.0,502.0 C1115.3,501.7 1134.0,503.0 1100.0,498.0 C1066.0,493.0 1066.7,490.7 1050.0,487.0 Z" fill="url(#pack)"/>
<path d="M1052.0,487.0 C1068.0,490.7 1066.7,493.0 1100.0,498.0 C1133.3,503.0 1115.3,501.7 1152.0,502.0 C1188.7,502.3 1173.3,503.0 1210.0,499.0 C1246.7,495.0 1244.7,493.0 1262.0,490.0" fill="none" stroke="#5a05b4" stroke-width="1.5"/>
<path d="M1070.0,575.0 L1250.0,575.0 L1250.0,600.0 C1233.3,603.7 1230.0,606.7 1200.0,611.0 C1170.0,615.3 1190.0,613.3 1160.0,613.0 C1130.0,612.7 1139.3,613.3 1110.0,610.0 C1080.7,606.7 1084.7,605.3 1072.0,603.0 Z" fill="#a9abab"/>
<path d="M1091.0,606.0 L1190.0,606.0 L1190.0,640.0 L1175.0,681.0 L1072.0,681.0 L1090.0,645.0 Z" fill="url(#stem2)"/>
<path d="M1090.0,645.0 L1072.0,681.0 L1095.0,681.0 Z" fill="#7f8080"/>
<path d="M1190.0,612.0 L1232.0,612.0 L1190.0,642.0 Z" fill="#848585"/>
<path d="M1067.0,549.0 L1250.0,553.0 L1250.0,580.0 C1233.3,583.0 1230.0,585.3 1200.0,589.0 C1170.0,592.7 1190.0,591.3 1160.0,591.0 C1130.0,590.7 1141.0,592.3 1110.0,588.0 C1079.0,583.7 1081.3,581.3 1067.0,578.0 Z" fill="url(#washer)"/>
<path d="M1067.0,549.0 L1091.0,549.0 C1100.7,552.7 1097.0,555.3 1120.0,560.0 C1143.0,564.7 1133.3,563.0 1160.0,563.0 C1186.7,563.0 1178.0,563.3 1200.0,560.0 C1222.0,556.7 1217.3,555.3 1226.0,553.0 L1250.0,553.0 C1238.3,559.3 1245.0,564.3 1215.0,572.0 C1185.0,579.7 1196.7,576.7 1160.0,576.0 C1123.3,575.3 1136.0,579.0 1105.0,570.0 C1074.0,561.0 1079.7,556.0 1067.0,549.0 Z" fill="#9a48f8"/>
<path d="M1084.0,202.0 L1222.0,202.0 L1222.0,342.0 C1211.3,344.3 1213.3,346.0 1190.0,349.0 C1166.7,352.0 1178.7,351.3 1152.0,351.0 C1125.3,350.7 1132.7,351.7 1110.0,348.0 C1087.3,344.3 1092.7,342.7 1084.0,340.0 Z" fill="url(#stem)"/>
<path d="M1084.0,200.0 L1127.5,209.0 L1219.0,200.0 L1222.0,204.0 L1222.0,207.0 C1211.3,209.3 1210.7,210.8 1190.0,214.0 C1169.3,217.2 1180.8,215.5 1160.0,216.5 C1139.2,217.5 1145.8,217.8 1127.5,217.0 C1109.2,216.2 1119.5,217.0 1105.0,214.0 C1090.5,211.0 1091.0,210.0 1084.0,208.0 Z" fill="#b2b4b4"/>
<path d="M1084.0,74.0 L1127.5,83.0 L1127.5,211.0 L1084.0,202.0 Z" fill="url(#sqL)"/>
<path d="M1127.5,83.0 L1218.5,74.0 L1219.0,203.0 L1127.5,211.0 Z" fill="url(#sqR)"/>
<path d="M1084.0,75.0 Q1084.0,71.0 1090.0,69.5 L1160.0,60.5 Q1166.0,59.5 1172.0,61.0 L1213.0,70.0 Q1218.5,71.5 1218.5,76.0 L1127.5,84.5 Z" fill="#919393"/>
<path d="M1084.0,75.0 L1127.5,84.5 L1218.5,76.0" fill="none" stroke="#b4b6b6" stroke-width="2.2"/>
<path d="M1050.0,182.0 L1080.0,182.0 L1082.5,185.0 L1083.0,304.0 L1086.0,304.0 L1086.0,341.0 L1051.0,341.0 Z" fill="#918373" stroke="#7a2020" stroke-width="1.2"/>
<path d="M1225.0,187.5 L1259.0,187.5 L1260.0,342.0 L1220.0,342.0 L1220.0,300.0 L1223.0,300.0 Z" fill="#918373" stroke="#7a2020" stroke-width="1.2"/>
<path d="M1283.0,146.0 L1295.0,156.0 L1293.0,210.0 L1284.0,236.0 L1280.0,200.0 Z" fill="#fff"/>
<path d="M406.5,193.4 H759 Q768.5,193.4 768.5,203 V228 L1065.8,266 L768.5,246 V279.5 Q768.5,289 759,289 H406.5 Q397,289 397,279.5 V203 Q397,193.4 406.5,193.4 Z" fill="none" stroke="#d7261c" stroke-width="2.2" stroke-linejoin="round"/>
<path d="M682.5,367 H944 Q953.7,367 953.7,376.5 V416.5 L1169,586 L953.7,432.4 V462.5 Q953.7,472 944,472 H682.5 Q673,472 673,462.5 V376.5 Q673,367 682.5,367 Z" fill="none" stroke="#d7261c" stroke-width="2.2" stroke-linejoin="round"/>
<path d="M1555,101.7 H2178 Q2199.4,101.7 2199.4,123 V351.5 Q2199.4,372.8 2178,372.8 H1555 Q1533.5,372.8 1533.5,351.5 V150 L1447,193 L1534,118 Q1536,101.7 1555,101.7 Z" fill="none" stroke="#d7261c" stroke-width="2.2" stroke-linejoin="round"/>
<path d="M662,1489.5 H1109 L1284,1320 L1125.5,1508 V1595 Q1125.5,1607.8 1112.5,1607.8 H662 Q649,1607.8 649,1595 V1502.5 Q649,1489.5 662,1489.5 Z" fill="none" stroke="#d7261c" stroke-width="2.2" stroke-linejoin="round"/>
<g transform="translate(1224,443) rotate(15)" fill="#ff2a2a" fill-opacity="0.40" font-size="125" font-weight="500" style="font-family:'Liberation Serif','Noto Serif CJK SC',serif"><text x="0" y="0">沃德</text><text x="252" y="0" textLength="246" lengthAdjust="spacingAndGlyphs">WODE</text><text x="500" y="0">球阀</text></g></svg>

<div class="t c" style="left:414.8px;top:207px;font-size:30.5px;letter-spacing:-1.5px">可调节的填料压盖</div>
<div class="t e" style="left:416px;top:244px;letter-spacing:1.44px">Adjustable packing gland</div>
<div class="t c" style="left:683px;top:380px;font-size:30.5px;letter-spacing:-1.5px">下装式防飞出阀杆</div>
<div class="t e" style="left:684px;top:409px;">Bottom−mounted</div>
<div class="t e" style="left:684px;top:434px;">blowout−proof stem</div>
<div class="t c" style="left:670.5px;top:1505.1px;font-size:30.5px;letter-spacing:-1.5px">中道金属对金属止口法兰防火设计</div>
<div class="t e" style="left:672px;top:1539px;letter-spacing:1.15px">Fireproof design of mid−way</div>
<div class="t e" style="left:672px;top:1569px;">metal−to−metal rabbet flange</div>
<div class="t c j" style="left:1565px;top:121.1px;width:582px;font-size:30px;letter-spacing:-1.5px">符合<span class="e">ISO5211</span>的头部平台，不需要支架可直接</div>
<div class="t c" style="left:1565px;top:158.1px;font-size:30px;letter-spacing:-1.5px">安装手柄、蜗轮、气动及电动等执行机构。</div>
<div class="t e j" style="left:1567px;top:196px;width:579.5px;">The head platform conforming to ISO5211:</div>
<div class="t e j" style="left:1567px;top:233.2px;width:579.5px;">without any bracket, the actuators, like</div>
<div class="t e j" style="left:1567px;top:270.4px;width:579.5px;">handle, worm gear, pneumatic or electric</div>
<div class="t e" style="left:1567px;top:307.6px;">types, can be mounted directly.</div>

</body></html>
